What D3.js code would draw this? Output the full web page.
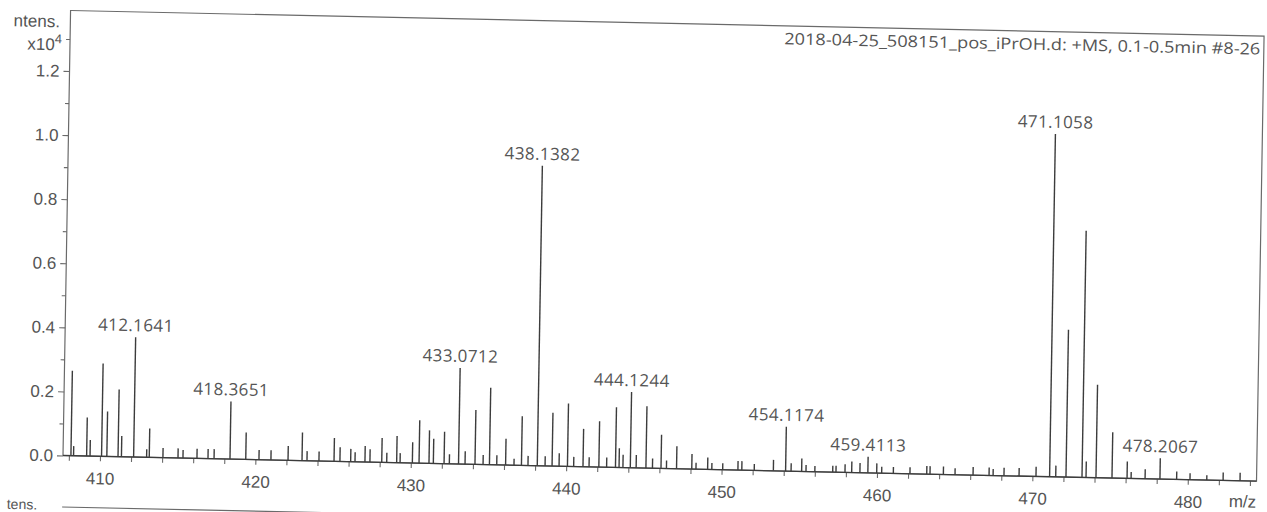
<!DOCTYPE html>
<html>
<head>
<meta charset="utf-8">
<script src="https://cdn.jsdelivr.net/npm/d3@7"></script>
<style>
  body { margin: 0; background: #fff; }
  svg { display: block; }
</style>
</head>
<body>
<svg id="chart" width="1267" height="512"></svg>
<script>
// mass spectrum, intensities in units of 1e4
var mz = [408.13, 408.30, 409.14, 409.36, 410.10, 410.44, 411.16, 411.38, 412.1641, 413.00,
    413.17, 414.05, 415.02, 415.34, 416.24, 416.95, 417.34, 418.3651, 419.38, 420.23,
    421.00, 422.10, 423.00, 423.32, 424.09, 425.06, 425.44, 426.13, 426.41, 427.05,
    427.37, 428.13, 428.45, 429.09, 429.31, 430.10, 430.53, 431.17, 431.45, 432.14,
    432.48, 433.0712, 433.49, 434.13, 434.65, 435.06, 435.53, 436.10, 436.64, 437.12,
    437.54, 438.1382, 438.64, 439.09, 439.54, 440.08, 440.48, 441.08, 441.47, 442.10,
    442.60, 443.17, 443.40, 443.65, 444.1244, 444.50, 445.13, 445.55, 446.10, 446.45,
    447.10, 448.08, 448.35, 449.10, 449.37, 450.07, 451.05, 451.30, 452.10, 453.33,
    454.1174, 454.47, 455.15, 455.43, 456.00, 457.15, 457.36, 457.94, 458.37, 458.90,
    459.4113, 459.98, 460.30, 461.05, 462.12, 463.20, 463.41, 464.27, 465.02, 466.18,
    467.21, 467.47, 468.17, 469.14, 470.23, 471.1058, 471.50, 472.16, 473.19, 473.45,
    474.09, 475.12, 476.09, 476.35, 477.25, 478.2067, 479.28, 480.14, 481.22, 482.27,
    483.36];
var intensity = [0.265, 0.03, 0.12, 0.05, 0.29, 0.14, 0.21, 0.065, 0.374, 0.025,
    0.09, 0.03, 0.03, 0.025, 0.03, 0.03, 0.03, 0.18, 0.084, 0.03,
    0.03, 0.045, 0.088, 0.03, 0.03, 0.073, 0.044, 0.04, 0.03, 0.05,
    0.04, 0.076, 0.03, 0.083, 0.03, 0.065, 0.134, 0.103, 0.077, 0.10,
    0.03, 0.30, 0.04, 0.17, 0.03, 0.24, 0.03, 0.082, 0.02, 0.153,
    0.03, 0.936, 0.03, 0.166, 0.04, 0.196, 0.03, 0.118, 0.03, 0.143,
    0.03, 0.188, 0.06, 0.04, 0.236, 0.04, 0.193, 0.03, 0.105, 0.025,
    0.07, 0.047, 0.02, 0.037, 0.02, 0.02, 0.028, 0.028, 0.02, 0.034,
    0.138, 0.025, 0.04, 0.02, 0.018, 0.02, 0.02, 0.025, 0.034, 0.03,
    0.05, 0.03, 0.02, 0.02, 0.02, 0.025, 0.025, 0.025, 0.02, 0.025,
    0.025, 0.02, 0.025, 0.025, 0.03, 1.07, 0.035, 0.46, 0.77, 0.05,
    0.29, 0.143, 0.053, 0.02, 0.03, 0.065, 0.025, 0.02, 0.015, 0.025,
    0.025];
var labelMz = [412.1641, 418.3651, 433.0712, 438.1382, 444.1244, 454.1174, 459.4113, 471.1058, 478.2067];
var yMajor = [0, 0.2, 0.4, 0.6, 0.8, 1.0, 1.2];
var yMinor = [0.1, 0.3, 0.5, 0.7, 0.9, 1.1, 1.3];
var xTicks = d3.range(408, 485, 2);
var title = "2018-04-25_508151_pos_iPrOH.d: +MS, 0.1-0.5min #8-26";

var LEFT = 63, RIGHT = 1256.5, TOP = 10.5, BASE = 455.5;
var INK = "#3c3c3c", TXT = "#555";
var axisFont = "'Liberation Sans', Arial, sans-serif";

var x = d3.scaleLinear().domain([407.62, 484.42]).range([LEFT, RIGHT]);
var y = d3.scaleLinear().domain([0, 1.389]).range([BASE, TOP]);

var svg = d3.select("#chart");
svg.append("rect").attr("width", 1267).attr("height", 512).attr("fill", "#fff");

// the page was scanned a bit crooked
var g = svg.append("g")
    .attr("transform", "translate(" + LEFT + "," + BASE + ") matrix(1,0.0215,-0.017,1,0,0) translate(" + (-LEFT) + "," + (-BASE) + ")");

g.append("rect")
    .attr("x", LEFT).attr("y", TOP)
    .attr("width", RIGHT - LEFT).attr("height", BASE - TOP)
    .attr("fill", "none").attr("stroke", "#6a6a6a").attr("stroke-width", 1.2);

var yAxis = g.append("g").attr("transform", "translate(" + LEFT + ",0)")
    .call(d3.axisLeft(y).tickValues(yMajor).tickSize(6).tickPadding(4).tickFormat(d3.format(".1f")));
var yAxisMinor = g.append("g").attr("transform", "translate(" + LEFT + ",0)")
    .call(d3.axisLeft(y).tickValues(yMinor).tickSize(4).tickFormat(""));
var xAxis = g.append("g").attr("transform", "translate(0," + BASE + ")")
    .call(d3.axisBottom(x).tickValues(xTicks).tickSize(5).tickPadding(11)
        .tickFormat(function(d) { return d % 10 === 0 ? d : ""; }));

[yAxis, yAxisMinor, xAxis].forEach(function(a) {
    a.select(".domain").remove();
    a.selectAll(".tick line").attr("stroke", "#6a6a6a").attr("stroke-width", 1.1);
    a.selectAll("text").attr("fill", TXT)
        .style("font-family", axisFont).style("font-size", "17px");
});

g.append("line")
    .attr("x1", LEFT).attr("x2", RIGHT).attr("y1", BASE).attr("y2", BASE)
    .attr("stroke", INK).attr("stroke-width", 1.3);

g.selectAll("line.peak")
    .data(mz)
    .enter()
    .append("line")
    .attr("class", "peak")
    .attr("x1", function(d) { return x(d); })
    .attr("x2", function(d) { return x(d); })
    .attr("y1", y(0))
    .attr("y2", function(d, i) { return y(intensity[i]); })
    .attr("stroke", INK).attr("stroke-width", 1.4);

g.selectAll("text.peaklabel")
    .data(labelMz)
    .enter()
    .append("text")
    .attr("class", "peaklabel")
    .attr("x", function(d) { return x(d); })
    .attr("y", function(d) { return y(intensity[mz.indexOf(d)]) - 6; })
    .attr("text-anchor", "middle")
    .attr("fill", TXT)
    .style("font-family", "'Open Sans', sans-serif").style("font-size", "17px")
    .style("letter-spacing", "0.4px")
    .text(function(d) { return d.toFixed(4); });

g.append("text")
    .attr("x", RIGHT - 3.5).attr("y", 29)
    .attr("text-anchor", "end").attr("fill", TXT)
    .attr("textLength", 476).attr("lengthAdjust", "spacingAndGlyphs")
    .style("font-family", "'Open Sans', sans-serif").style("font-size", "16px")
    .text(title);

g.append("text")
    .attr("x", 52.6).attr("y", 27.5)
    .attr("text-anchor", "end").attr("fill", TXT)
    .style("font-family", axisFont).style("font-size", "17px")
    .text("ntens.");
var xt = g.append("text")
    .attr("x", 55).attr("y", 50.5)
    .attr("text-anchor", "end").attr("fill", TXT)
    .style("font-family", axisFont).style("font-size", "17px");
xt.append("tspan").text("x10");
xt.append("tspan").attr("dy", -7).style("font-size", "13px").text("4");

g.append("text")
    .attr("x", RIGHT).attr("y", 482)
    .attr("text-anchor", "end").attr("fill", TXT)
    .style("font-family", axisFont).style("font-size", "17px")
    .text("m/z");

// top of the next spectrum on the page
g.append("line")
    .attr("x1", LEFT).attr("x2", RIGHT).attr("y1", 507).attr("y2", 507)
    .attr("stroke", "#6a6a6a").attr("stroke-width", 1.2);
g.append("text")
    .attr("x", 38).attr("y", 510)
    .attr("text-anchor", "end").attr("fill", TXT)
    .style("font-family", axisFont).style("font-size", "14px")
    .text("tens.");
</script>
</body>
</html>
